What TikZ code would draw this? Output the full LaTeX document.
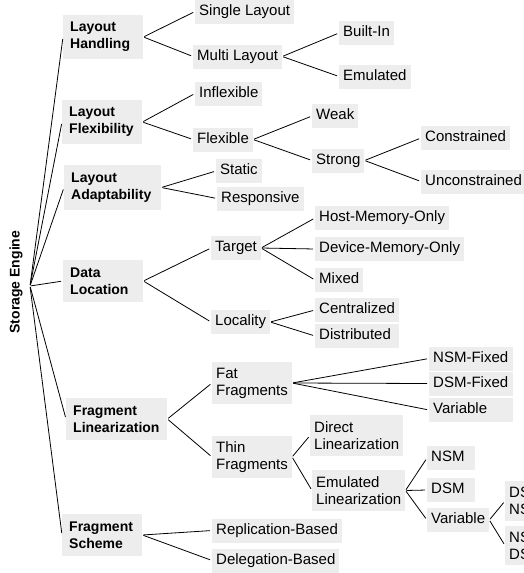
\documentclass[tikz,border=0pt]{standalone}
\usepackage{fontspec}
\setmainfont{Liberation Sans}
\usepackage{tikz}
\usetikzlibrary{positioning}
\definecolor{boxgray}{RGB}{237,237,237}
\tikzset{
x=1pt, y=-1pt, % pixel grid, y grows downwards
rootlabel/.style={rotate=90, inner sep=0pt, font=\fontsize{14}{17}\selectfont\bfseries},
category/.style={fill=boxgray, anchor=west, align=left, text width=66pt, inner xsep=7pt, inner ysep=7.5pt, font=\fontsize{14}{17}\selectfont\bfseries},
box/.style={fill=boxgray, anchor=west, inner xsep=4pt, font=\fontsize{15}{17}\selectfont},
leaf/.style={box, inner ysep=4.5pt, text height=11pt, text depth=4pt},
pair/.style={box, align=left, inner ysep=6pt},
branch/.style={every edge/.style={draw, line width=0.8pt, shorten <=1pt, shorten >=2pt}},
}

\begin{document}
\begin{tikzpicture}
\useasboundingbox (0,0) rectangle (524,573);

% root
\node[rootlabel] (engine) at (16,282) {Storage Engine};
\coordinate (hub) at (30,286);

% categories
\node[category] (handling) at (63,37) {Layout\\Handling};
\node[category] (flexibility) at (62,122) {Layout\\Flexibility};
\node[category, text width=83pt] (adaptability) at (64,187.5) {Layout\\Adaptability};
\node[category] (location) at (63,281) {Data\\Location};
\node[category, text width=87pt] (linearization) at (66,419) {Fragment\\Linearization};
\node[category] (scheme) at (62,535) {Fragment\\Scheme};

% layout handling
\node[leaf] (single) at (195,11.5) {Single Layout};
\node[leaf] (multi) at (193,56.5) {Multi Layout};
\node[leaf] (builtin) at (339,33) {Built-In};
\node[leaf] (emulated) at (339,76.5) {Emulated};

% layout flexibility
\node[leaf] (inflexible) at (195,93.5) {Inflexible};
\node[leaf] (flexible) at (193,139.5) {Flexible};
\node[leaf] (weak) at (312,116) {Weak};
\node[leaf] (strong) at (312,160.5) {Strong};
\node[leaf] (constrained) at (421,138) {Constrained};
\node[leaf] (unconstrained) at (421,181.5) {Unconstrained};

% layout adaptability
\node[leaf] (static) at (216,171) {Static};
\node[leaf] (responsive) at (217,198.5) {Responsive};

% data location
\node[leaf] (target) at (211,248) {Target};
\node[leaf] (locality) at (211,322) {Locality};
\node[leaf] (hostonly) at (315,218) {Host-Memory-Only};
\node[leaf] (deviceonly) at (315,249) {Device-Memory-Only};
\node[leaf] (mixed) at (315,280) {Mixed};
\node[leaf, text width=76pt] (centralized) at (315,310) {Centralized};
\node[leaf, text width=76pt] (distributed) at (315,336) {Distributed};

% fragment linearization
\node[pair] (fat) at (212,383) {Fat\\Fragments};
\node[leaf, text width=76pt] (nsmfixed) at (429,358.5) {NSM-Fixed};
\node[leaf, text width=76pt] (dsmfixed) at (429,383.5) {DSM-Fixed};
\node[leaf, text width=76pt] (fatvariable) at (429,410) {Variable};
\node[pair] (thin) at (212,457) {Thin\\Fragments};
\node[pair] (direct) at (310,435.5) {Direct\\Linearization};
\node[pair] (emulatedlin) at (312,490.5) {Emulated\\Linearization};
\node[leaf, text width=40pt] (nsm) at (427,458) {NSM};
\node[leaf, text width=40pt] (dsm) at (427,490) {DSM};
\node[leaf] (variable) at (427,520) {Variable};
\node[pair] (dsmnsm) at (505,501) {DSM\\NSM};
\node[pair] (nsmdsm) at (505,545.5) {NSM\\DSM};

% fragment scheme
\node[leaf] (replication) at (212,530.5) {Replication-Based};
\node[leaf] (delegation) at (212,560.5) {Delegation-Based};

% connectors
\path[branch] (hub) edge (handling.west) edge (flexibility.west) edge (adaptability.west)
  edge (location.west) edge (linearization.west) edge (scheme.west);
\path[branch] (handling.east) edge (single.west) edge (multi.west);
\path[branch] (multi.east) edge (builtin.west) edge (emulated.west);
\path[branch] (flexibility.east) edge (inflexible.west) edge (flexible.west);
\path[branch] (flexible.east) edge (weak.west) edge (strong.west);
\path[branch] (strong.east) edge (constrained.west) edge (unconstrained.west);
\path[branch] (adaptability.east) edge (static.west) edge (responsive.west);
\path[branch] (location.east) edge (target.west) edge (locality.west);
\path[branch] (target.east) edge (hostonly.west) edge (deviceonly.west) edge (mixed.west);
\path[branch] (locality.east) edge (centralized.west) edge (distributed.west);
\path[branch] (linearization.east) edge (fat.west) edge (thin.west);
\path[branch] (fat.east) edge (nsmfixed.west) edge (dsmfixed.west) edge (fatvariable.west);
\path[branch] (thin.east) edge (direct.west) edge (emulatedlin.west);
\path[branch] (emulatedlin.east) edge (nsm.west) edge (dsm.west) edge (variable.west);
\path[branch] (variable.east) edge (dsmnsm.west) edge (nsmdsm.west);
\path[branch] (scheme.east) edge (replication.west) edge (delegation.west);

\end{tikzpicture}
\end{document}
